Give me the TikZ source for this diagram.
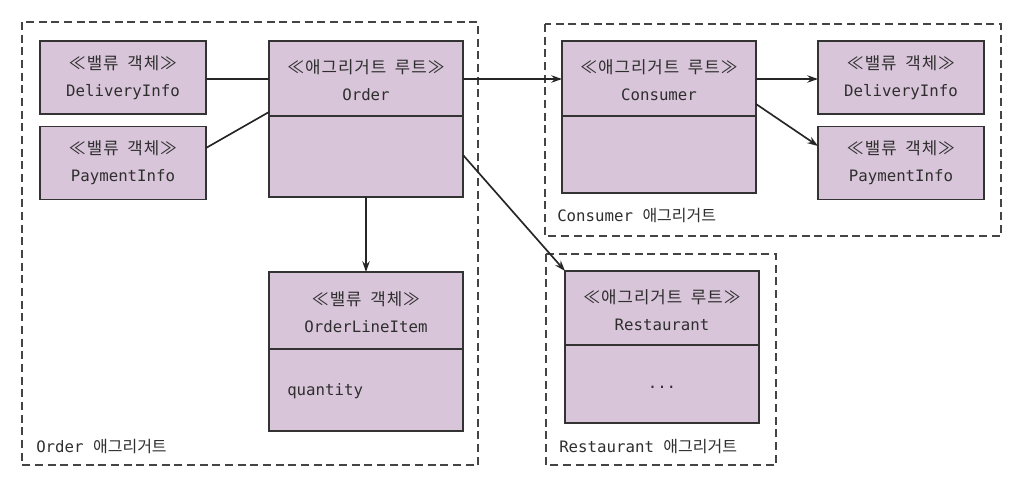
\documentclass[tikz,border=0pt]{standalone}
\usepackage{fontspec}
\setmainfont{DejaVu Sans Mono}
\newfontfamily\krfont[LetterSpace=6,WordSpace=1.8]{Noto Sans CJK KR}
\newfontfamily\krlabel{Noto Sans CJK KR}
\usetikzlibrary{arrows.meta}
\definecolor{boxfill}{HTML}{D9C5D9}
\definecolor{boxline}{HTML}{333333}
\definecolor{dashline}{HTML}{444444}
\definecolor{txt}{HTML}{2E2E2E}
\newcommand{\kr}[1]{{\krfont\fontsize{12.6}{20}\selectfont #1}}
\newcommand{\krl}[1]{{\krlabel\fontsize{12}{20}\selectfont #1}}
\begin{document}
\begin{tikzpicture}[x=0.75pt,y=-0.75pt,
  box/.style={draw=boxline,fill=boxfill,line width=1.4pt,inner sep=0pt,outer sep=0pt,
    align=center,text=txt,font=\fontsize{11.8}{20}\selectfont},
  valbox/.style={box,minimum width=124.5pt,minimum height=54.75pt},
  bigbox/.style={box,minimum width=145.5pt},
  lbl/.style={text=txt,align=center,inner sep=0pt,font=\fontsize{11.8}{20}\selectfont},
  agg/.style={draw=dashline,line width=1.2pt,dash pattern=on 6pt off 3.5pt},
  divider/.style={draw=boxline,line width=1.3pt},
  conn/.style={draw=black!85,line width=1.25pt},
  hconn/.style={conn,line width=1.5pt},
  arr/.style={conn,-{Stealth[length=8pt,width=5.5pt]}},
  harr/.style={hconn,-{Stealth[length=8pt,width=5.5pt]}}]
\useasboundingbox (0,0) rectangle (1029,484);
\fill[white] (0,0) rectangle (1029,484);
% aggregates
\draw[agg] (22,22) rectangle (478,465);
\draw[agg] (545,24) rectangle (1001,236);
\draw[agg] (546,254) rectangle (776,465);
% Order aggregate
\node[valbox] (dl) at (123,77.5) {\kr{≪밸류 객체≫}\\DeliveryInfo};
\node[valbox] (pl) at (123,163) {\kr{≪밸류 객체≫}\\PaymentInfo};
\node[bigbox,minimum height=117pt] (order) at (366,119) {};
\draw[divider] (order.west |- 0,116) -- (order.east |- 0,116);
\node[lbl] (ordert) at (366,80) {\kr{≪애그리거트 루트≫}\\Order};
\node[bigbox,minimum height=119.25pt] (oli) at (366,351.5) {};
\draw[divider] (oli.west |- 0,349) -- (oli.east |- 0,349);
\node[lbl] (olit) at (366,312) {\kr{≪밸류 객체≫}\\OrderLineItem};
\node[lbl,anchor=west] (qty) at (287,391) {quantity};
\node[lbl,anchor=west] (ordagg) at (36,447) {Order \krl{애그리거트}};
% Consumer aggregate
\node[bigbox,minimum height=114pt] (cons) at (659,117) {};
\draw[divider] (cons.west |- 0,116) -- (cons.east |- 0,116);
\node[lbl] (const) at (659,80) {\kr{≪애그리거트 루트≫}\\Consumer};
\node[valbox] (dr) at (901,77.5) {\kr{≪밸류 객체≫}\\DeliveryInfo};
\node[valbox] (pr) at (901,163) {\kr{≪밸류 객체≫}\\PaymentInfo};
\node[lbl,anchor=west] (consagg) at (557,216) {Consumer \krl{애그리거트}};
% Restaurant aggregate
\node[bigbox,minimum height=114pt] (rest) at (662,347) {};
\draw[divider] (rest.west |- 0,345) -- (rest.east |- 0,345);
\node[lbl] (restt) at (662,310) {\kr{≪애그리거트 루트≫}\\Restaurant};
\node[lbl] (dots) at (662,387) {...};
\node[lbl,anchor=west] (restagg) at (559,447) {Restaurant \krl{애그리거트}};
% connectors
\draw[hconn] (dl.east |- 0,79) -- (order.west |- 0,79);
\draw[conn] (pl.east |- 0,148) -- (order.west |- 0,112);
\draw[harr] (order.east |- 0,79) -- (cons.west |- 0,79);
\draw[arr] (order.east |- 0,155) -- (rest.north west);
\draw[arr] (order.south) -- (oli.north);
\draw[harr] (cons.east |- 0,79) -- (dr.west |- 0,79);
\draw[arr] (cons.east |- 0,104) -- (pr.west |- 0,146);
\end{tikzpicture}
\end{document}
